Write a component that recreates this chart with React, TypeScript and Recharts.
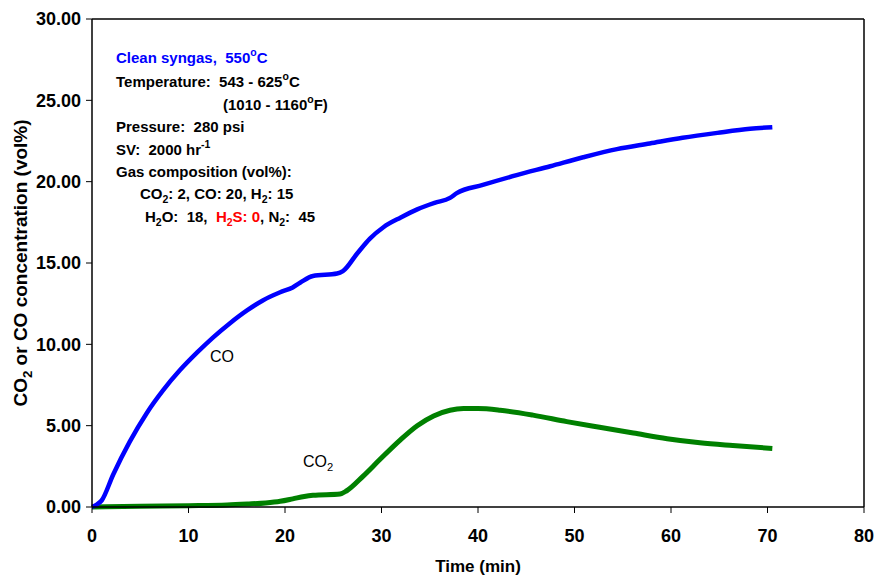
import React from "react";
import { LineChart, Line, XAxis, YAxis, ReferenceLine } from "recharts";

// CO curve (time in min, concentration in vol%)
const coTime = [0, 0.5, 1, 2.2, 3.9, 5.7, 7.4, 9.1, 10.9, 12.5, 14.3, 16.1, 17.7, 19.5, 20.8, 21.6, 22.9, 25.4, 26.0, 27.5, 28.8, 30.2, 32, 33.7, 35.5, 37.1, 37.8, 40.5, 44, 47.5, 50.9, 54.4, 57.8, 61.2, 64.8, 68.2, 70.5];
const coValue = [0, 0.15, 0.4, 2.0, 4.0, 5.8, 7.2, 8.4, 9.5, 10.4, 11.3, 12.1, 12.7, 13.2, 13.5, 13.8, 14.2, 14.35, 14.5, 15.6, 16.5, 17.2, 17.8, 18.3, 18.7, 19.0, 19.3, 19.8, 20.4, 20.95, 21.5, 22.0, 22.35, 22.7, 23.0, 23.25, 23.35];

// CO2 curve
const co2Time = [0, 5, 10, 14, 16.1, 18, 19.5, 20.8, 22, 22.9, 25.7, 26.4, 28.1, 29.8, 31.9, 33.7, 35.4, 37.1, 38.5, 40, 42.3, 45.7, 49.2, 52.6, 56.1, 59.6, 63, 66.4, 70.5];
const co2Value = [0, 0.05, 0.08, 0.12, 0.18, 0.25, 0.35, 0.5, 0.65, 0.72, 0.8, 1.0, 1.9, 2.9, 4.1, 5.0, 5.6, 5.95, 6.05, 6.05, 5.95, 5.65, 5.25, 4.9, 4.55, 4.2, 3.95, 3.78, 3.6];

const xTicks = [0, 10, 20, 30, 40, 50, 60, 70, 80];
const yTicks = [0, 5, 10, 15, 20, 25, 30];

const coData = coTime.map((t, i) => ({ t, v: coValue[i] }));
const co2Data = co2Time.map((t, i) => ({ t, v: co2Value[i] }));

const FONT = "'Liberation Sans', Arial, sans-serif";

const Sub = ({ children, fill }: { children: React.ReactNode; fill?: string }) => (
  <tspan baselineShift="-35%" fontSize="0.7em" fill={fill}>{children}</tspan>
);
const Sup = ({ children }: { children: React.ReactNode }) => (
  <tspan baselineShift="65%" fontSize="0.7em">{children}</tspan>
);

function YLabel() {
  return (
    <text
      x={27}
      y={263}
      transform="rotate(-90 27 263)"
      textAnchor="middle"
      fontSize={19}
      fontWeight="bold"
      fill="#000"
      fontFamily={FONT}
    >
      CO<Sub>2</Sub> or CO concentration (vol%)
    </text>
  );
}

function Notes() {
  const line = { fontSize: 15, fontWeight: "bold" as const, fill: "#000", style: { whiteSpace: "pre" as const } };
  return (
    <svg width={876} height={578} style={{ position: "absolute", left: 0, top: 0, pointerEvents: "none" }} fontFamily={FONT}>
      <text x={116} y={63} {...line} fill="#0000ff">Clean syngas,  550<Sup>o</Sup>C</text>
      <text x={116} y={87} {...line}>Temperature:  543 - 625<Sup>o</Sup>C</text>
      <text x={223} y={110} {...line}>(1010 - 1160<Sup>o</Sup>F)</text>
      <text x={116} y={132} {...line}>Pressure:  280 psi</text>
      <text x={116} y={155} {...line}>SV:  2000 hr<Sup>-1</Sup></text>
      <text x={116} y={177} {...line}>Gas composition (vol%):</text>
      <text x={140} y={199} {...line}>CO<Sub>2</Sub>: 2, CO: 20, H<Sub>2</Sub>: 15</text>
      <text x={145} y={222} {...line}>
        H<Sub>2</Sub>O:  18,  <tspan fill="#ff0000">H</tspan><Sub fill="#ff0000">2</Sub><tspan fill="#ff0000">S: 0</tspan>, N<Sub>2</Sub>:  45
      </text>
      <text x={210} y={362} fontSize={16} fill="#000">CO</text>
      <text x={303} y={467} fontSize={16} fill="#000">CO<Sub>2</Sub></text>
      <YLabel />
    </svg>
  );
}

export default function App() {
  return (
    <div style={{ position: "absolute", left: 0, top: 0, width: 876, height: 578, background: "#fff", fontFamily: FONT }}>
      <LineChart width={876} height={578} margin={{ top: 19, right: 12, bottom: 0, left: 0 }}>
        <XAxis
          type="number"
          dataKey="t"
          domain={[0, 80]}
          ticks={xTicks}
          height={71}
          tickSize={6}
          tickMargin={16}
          axisLine={{ stroke: "#000", strokeWidth: 1.5 }}
          tickLine={{ stroke: "#000" }}
          tick={{ fill: "#000", fontSize: 18, fontWeight: "bold", fontFamily: FONT }}
          allowDuplicatedCategory={false}
          label={{ value: "Time (min)", position: "insideBottom", offset: 6, fill: "#000", fontSize: 17, fontWeight: "bold", fontFamily: FONT }}
        />
        <YAxis
          type="number"
          domain={[0, 30]}
          ticks={yTicks}
          width={92}
          tickSize={6}
          tickMargin={5}
          tickFormatter={(v: number) => v.toFixed(2)}
          axisLine={{ stroke: "#000", strokeWidth: 1.5 }}
          tickLine={{ stroke: "#000" }}
          tick={{ fill: "#000", fontSize: 18, fontWeight: "bold", fontFamily: FONT }}
        />
        <ReferenceLine y={30} stroke="#000" strokeWidth={1.5} />
        <ReferenceLine x={80} stroke="#000" strokeWidth={1.5} />
        <Line data={co2Data} dataKey="v" type="monotone" stroke="#008000" strokeWidth={5} dot={false} isAnimationActive={false} />
        <Line data={coData} dataKey="v" type="monotone" stroke="#0000ff" strokeWidth={4.5} dot={false} isAnimationActive={false} />
      </LineChart>
      <Notes />
    </div>
  );
}
